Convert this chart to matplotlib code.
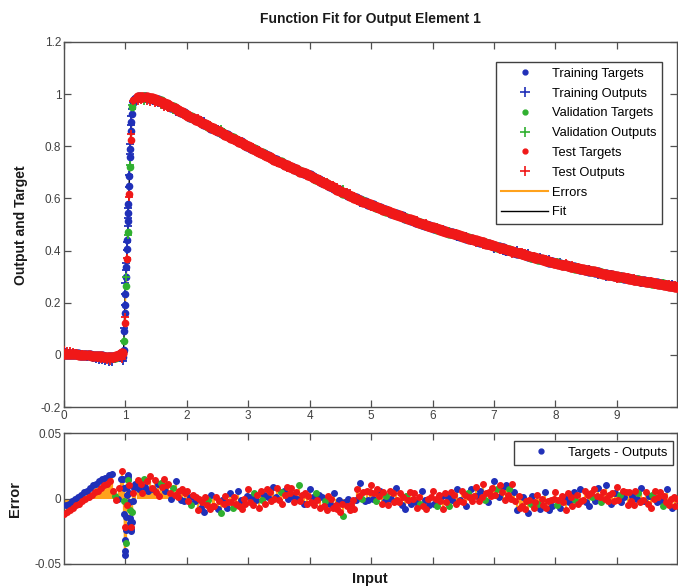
import matplotlib
matplotlib.use('Agg')
import matplotlib.pyplot as plt
import numpy as np
from matplotlib.lines import Line2D

plt.rcParams['font.family'] = ['Liberation Sans', 'DejaVu Sans']

# ---------------- data ----------------
# flat part before the step
x_flat = [0.000, 0.025, 0.050, 0.075, 0.100, 0.125, 0.150, 0.175, 0.200, 0.225,
          0.250, 0.275, 0.300, 0.325, 0.350, 0.375, 0.400, 0.425, 0.450, 0.475,
          0.500, 0.525, 0.550, 0.575, 0.600, 0.625, 0.650, 0.675, 0.700, 0.725,
          0.750, 0.775, 0.800, 0.825, 0.850, 0.875, 0.900, 0.925, 0.950]
t_flat = [0.005, 0.005, 0.004, 0.004, 0.004, 0.003, 0.003, 0.003, 0.002, 0.002,
          0.001, 0.001, 0.000, 0.000, -0.001, -0.001, -0.002, -0.002, -0.003, -0.003,
          -0.004, -0.004, -0.005, -0.005, -0.006, -0.006, -0.007, -0.007, -0.008, -0.008,
          -0.009, -0.009, -0.008, -0.007, -0.006, -0.004, -0.001, 0.003, 0.006]
err_flat_milli = [-12, -5, -10, -4, -9, -2, -7, 0, -5, 1,
                  -4, 3, -2, 5, 0, 6, 1, 8, 3, 10,
                  5, 11, 6, 13, 8, 15, 10, 16, 11, 18,
                  13, 19, 6, 2, -1, 0, 8, 15, 21]

# steep rise
x_rise = [0.965, 0.970, 0.975, 0.980, 0.985, 0.990, 0.995, 1.000, 1.005, 1.010,
          1.015, 1.020, 1.025, 1.030, 1.035, 1.040, 1.045, 1.050, 1.055, 1.060,
          1.065, 1.070, 1.075, 1.080, 1.085, 1.090, 1.095, 1.100, 1.110, 1.120,
          1.130, 1.140, 1.150]
t_rise = [-0.010, 0.020, 0.052, 0.090, 0.122, 0.160, 0.193, 0.232, 0.263, 0.300,
          0.337, 0.368, 0.405, 0.441, 0.473, 0.512, 0.544, 0.580, 0.617, 0.648,
          0.686, 0.719, 0.757, 0.788, 0.826, 0.858, 0.894, 0.924, 0.950, 0.966,
          0.976, 0.982, 0.986]
err_rise_milli = [15, 8, -2, -12, -22, -32, -40, -43, -34, -24,
                  -14, -5, 3, 9, 14, 17, 18, 15, 10, 4,
                  -3, -9, -15, -19, -22, -25, -23, -18, -10, -2,
                  4, 8, 11]

# slow decay
x_decay = [1.200, 1.225, 1.250, 1.275, 1.300, 1.325, 1.350, 1.375, 1.400, 1.425,
           1.450, 1.475, 1.500, 1.525, 1.550, 1.575, 1.600, 1.625, 1.650, 1.675,
           1.700, 1.725, 1.750, 1.775, 1.800, 1.825, 1.850, 1.875, 1.900, 1.925,
           1.950, 1.975, 2.000, 2.025, 2.050, 2.075, 2.100, 2.125, 2.150, 2.175,
           2.200, 2.225, 2.250, 2.275, 2.300, 2.325, 2.350, 2.375, 2.400, 2.425,
           2.450, 2.475, 2.500, 2.525, 2.550, 2.575, 2.600, 2.625, 2.650, 2.675,
           2.700, 2.725, 2.750, 2.775, 2.800, 2.825, 2.850, 2.875, 2.900, 2.925,
           2.950, 2.975, 3.000, 3.025, 3.050, 3.075, 3.100, 3.125, 3.150, 3.175,
           3.200, 3.225, 3.250, 3.275, 3.300, 3.325, 3.350, 3.375, 3.400, 3.425,
           3.450, 3.475, 3.500, 3.525, 3.550, 3.575, 3.600, 3.625, 3.650, 3.675,
           3.700, 3.725, 3.750, 3.775, 3.800, 3.825, 3.850, 3.875, 3.900, 3.925,
           3.950, 3.975, 4.000, 4.025, 4.050, 4.075, 4.100, 4.125, 4.150, 4.175,
           4.200, 4.225, 4.250, 4.275, 4.300, 4.325, 4.350, 4.375, 4.400, 4.425,
           4.450, 4.475, 4.500, 4.525, 4.550, 4.575, 4.600, 4.625, 4.650, 4.675,
           4.700, 4.725, 4.750, 4.775, 4.800, 4.825, 4.850, 4.875, 4.900, 4.925,
           4.950, 4.975, 5.000, 5.025, 5.050, 5.075, 5.100, 5.125, 5.150, 5.175,
           5.200, 5.225, 5.250, 5.275, 5.300, 5.325, 5.350, 5.375, 5.400, 5.425,
           5.450, 5.475, 5.500, 5.525, 5.550, 5.575, 5.600, 5.625, 5.650, 5.675,
           5.700, 5.725, 5.750, 5.775, 5.800, 5.825, 5.850, 5.875, 5.900, 5.925,
           5.950, 5.975, 6.000, 6.025, 6.050, 6.075, 6.100, 6.125, 6.150, 6.175,
           6.200, 6.225, 6.250, 6.275, 6.300, 6.325, 6.350, 6.375, 6.400, 6.425,
           6.450, 6.475, 6.500, 6.525, 6.550, 6.575, 6.600, 6.625, 6.650, 6.675,
           6.700, 6.725, 6.750, 6.775, 6.800, 6.825, 6.850, 6.875, 6.900, 6.925,
           6.950, 6.975, 7.000, 7.025, 7.050, 7.075, 7.100, 7.125, 7.150, 7.175,
           7.200, 7.225, 7.250, 7.275, 7.300, 7.325, 7.350, 7.375, 7.400, 7.425,
           7.450, 7.475, 7.500, 7.525, 7.550, 7.575, 7.600, 7.625, 7.650, 7.675,
           7.700, 7.725, 7.750, 7.775, 7.800, 7.825, 7.850, 7.875, 7.900, 7.925,
           7.950, 7.975, 8.000, 8.025, 8.050, 8.075, 8.100, 8.125, 8.150, 8.175,
           8.200, 8.225, 8.250, 8.275, 8.300, 8.325, 8.350, 8.375, 8.400, 8.425,
           8.450, 8.475, 8.500, 8.525, 8.550, 8.575, 8.600, 8.625, 8.650, 8.675,
           8.700, 8.725, 8.750, 8.775, 8.800, 8.825, 8.850, 8.875, 8.900, 8.925,
           8.950, 8.975, 9.000, 9.025, 9.050, 9.075, 9.100, 9.125, 9.150, 9.175,
           9.200, 9.225, 9.250, 9.275, 9.300, 9.325, 9.350, 9.375, 9.400, 9.425,
           9.450, 9.475, 9.500, 9.525, 9.550, 9.575, 9.600, 9.625, 9.650, 9.675,
           9.700, 9.725, 9.750, 9.775, 9.800, 9.825, 9.850, 9.875, 9.900, 9.925,
           9.950, 9.975]
t_decay = [0.988, 0.989, 0.990, 0.990, 0.990, 0.989, 0.988, 0.987, 0.985, 0.984,
           0.982, 0.980, 0.978, 0.976, 0.974, 0.972, 0.969, 0.967, 0.964, 0.961,
           0.958, 0.955, 0.952, 0.949, 0.946, 0.943, 0.940, 0.937, 0.933, 0.930,
           0.927, 0.924, 0.920, 0.917, 0.914, 0.911, 0.908, 0.905, 0.902, 0.899,
           0.896, 0.893, 0.890, 0.887, 0.884, 0.881, 0.878, 0.875, 0.872, 0.869,
           0.866, 0.863, 0.860, 0.857, 0.854, 0.851, 0.848, 0.845, 0.842, 0.839,
           0.836, 0.833, 0.830, 0.827, 0.824, 0.821, 0.818, 0.815, 0.812, 0.809,
           0.806, 0.803, 0.800, 0.797, 0.794, 0.791, 0.788, 0.785, 0.782, 0.779,
           0.776, 0.773, 0.770, 0.767, 0.764, 0.761, 0.758, 0.755, 0.752, 0.749,
           0.746, 0.744, 0.741, 0.738, 0.735, 0.733, 0.730, 0.727, 0.724, 0.722,
           0.719, 0.717, 0.714, 0.711, 0.708, 0.706, 0.703, 0.701, 0.698, 0.696,
           0.693, 0.691, 0.688, 0.685, 0.682, 0.679, 0.676, 0.673, 0.670, 0.667,
           0.664, 0.661, 0.658, 0.655, 0.652, 0.649, 0.646, 0.643, 0.640, 0.637,
           0.634, 0.631, 0.628, 0.625, 0.622, 0.620, 0.617, 0.614, 0.611, 0.609,
           0.606, 0.603, 0.600, 0.598, 0.595, 0.593, 0.590, 0.588, 0.585, 0.583,
           0.580, 0.578, 0.576, 0.574, 0.571, 0.569, 0.566, 0.564, 0.562, 0.560,
           0.557, 0.555, 0.553, 0.551, 0.548, 0.546, 0.544, 0.542, 0.539, 0.537,
           0.535, 0.533, 0.531, 0.529, 0.526, 0.524, 0.522, 0.520, 0.518, 0.516,
           0.513, 0.511, 0.509, 0.507, 0.505, 0.503, 0.501, 0.499, 0.497, 0.495,
           0.493, 0.491, 0.489, 0.487, 0.485, 0.483, 0.481, 0.480, 0.478, 0.476,
           0.474, 0.473, 0.471, 0.469, 0.467, 0.466, 0.464, 0.462, 0.460, 0.459,
           0.457, 0.455, 0.453, 0.452, 0.450, 0.448, 0.446, 0.445, 0.443, 0.441,
           0.439, 0.438, 0.436, 0.434, 0.432, 0.431, 0.429, 0.427, 0.425, 0.424,
           0.422, 0.420, 0.418, 0.417, 0.415, 0.413, 0.411, 0.410, 0.408, 0.406,
           0.404, 0.403, 0.401, 0.399, 0.397, 0.396, 0.394, 0.392, 0.390, 0.389,
           0.387, 0.386, 0.384, 0.382, 0.380, 0.379, 0.377, 0.376, 0.374, 0.372,
           0.370, 0.369, 0.367, 0.366, 0.364, 0.363, 0.361, 0.360, 0.358, 0.357,
           0.355, 0.354, 0.352, 0.351, 0.349, 0.348, 0.346, 0.345, 0.344, 0.343,
           0.341, 0.340, 0.338, 0.337, 0.336, 0.335, 0.333, 0.332, 0.331, 0.330,
           0.328, 0.327, 0.326, 0.325, 0.323, 0.322, 0.321, 0.320, 0.318, 0.317,
           0.316, 0.315, 0.313, 0.312, 0.311, 0.310, 0.308, 0.307, 0.306, 0.305,
           0.304, 0.303, 0.301, 0.300, 0.299, 0.298, 0.297, 0.296, 0.295, 0.294,
           0.292, 0.291, 0.290, 0.289, 0.288, 0.287, 0.286, 0.285, 0.284, 0.283,
           0.282, 0.281, 0.280, 0.279, 0.278, 0.277, 0.276, 0.275, 0.274, 0.273,
           0.272, 0.271, 0.270, 0.269, 0.268, 0.267, 0.266, 0.265, 0.264, 0.263,
           0.262, 0.261]
err_decay_milli = [14, 7, 11, 4, 15, 9, 13, 6, 17, 8,
                   7, 14, 5, 11, 2, 12, 9, 15, 6, 10,
                   11, 4, 0, 8, 3, 13, 1, 6, -1, 7,
                   -2, 4, 6, -2, 1, -5, 3, -2, 1, -9,
                   0, -7, -3, -10, 1, -5, -1, -8, 3, -6,
                   -6, 1, -8, -2, -11, -1, -4, 2, -7, -3,
                   4, -3, -7, 1, -4, 6, -6, -1, -8, 0,
                   -4, 2, 7, -3, 1, -5, 4, -1, 3, -7,
                   6, -1, 3, -4, 7, 1, 5, -2, 9, 0,
                   1, 8, -1, 5, -4, 6, 3, 9, 0, 4,
                   8, 1, -3, 5, 0, 10, -2, 3, -4, 4,
                   -4, 2, 7, -3, 1, -5, 4, -1, 3, -7,
                   1, -6, -2, -9, 2, -4, 0, -7, 4, -5,
                   -8, -1, -10, -4, -13, -3, -6, 0, -9, -5,
                   -1, -8, -1, 7, 2, 12, 0, 5, -2, 6,
                   -1, 5, 10, 0, 4, -2, 7, 2, 6, -4,
                   5, -2, 2, -5, 6, 0, 4, -3, 8, -1,
                   -3, 4, -5, 1, -8, 2, -1, 5, -4, 0,
                   4, -3, -7, 1, -4, 6, -6, -1, -8, 0,
                   -5, 1, 6, -4, 0, -6, 3, -2, 2, -8,
                   4, -3, 1, -6, 5, -1, 3, -4, 7, -2,
                   -1, 6, -3, 3, -6, 4, 1, 7, -2, 2,
                   9, 2, -2, 6, 1, 11, -1, 4, -3, 5,
                   2, 8, 13, 3, 7, 1, 10, 5, 9, -1,
                   10, 3, 7, 0, 11, 5, -2, -9, 2, -7,
                   -6, 1, -8, -2, -11, -1, -4, 2, -7, -3,
                   3, -4, -8, 0, -5, 5, -7, -2, -9, -1,
                   -6, 0, 5, -5, -1, -7, 2, -3, 1, -9,
                   4, -3, 1, -6, 5, -1, 3, -4, 7, -2,
                   -1, 6, -3, 3, -6, 4, 1, 7, -2, 2,
                   8, 1, -3, 5, 0, 10, -2, 3, -4, 4,
                   -2, 4, 9, -1, 3, -3, 6, 1, 5, -5,
                   5, -2, 2, -5, 6, 0, 4, -3, 8, -1,
                   -2, 5, -4, 2, -7, 3, 0, 6, -3, 1,
                   5, -2, -6, 2, -3, 7, -5, 0, -7, 1,
                   -6, 0]

# data division per sample: T = training, V = validation, S = test
sets_flat = "STSTSTSTSTSTSTSTSTSTSTSTSTSTSTSTSVSTSTS"
sets_rise = "TTVTSTTTVTTSTTVTTTSTTVTTSTTTVTSTTS"
sets_decay = ("STSSVTSTSS" "TSSTSVSSTS" "SSTVSTSSTS" "TSSSTVSTSS" "STSTSSVSTS"
              "SSTSVTSSTS" "TSVSSTSTSS" "STSSTSVTSS" "SVTSSTSSTS" "TSSVSTSSTS"
              "STSSTVSSTS" "SSTSTSVSTS" "TSVSSTSSTS" "STSSVTSTSS" "SSTSSTVSTS"
              "TSSTSVSSTS" "STVSSTSSTS" "SSTSTVSSTS" "STSSVTSTSS" "TSSTSVSSTS"
              "SSTVSTSSTS" "TSSSTVSTSS" "STSTSSVSTS" "SSTSVTSSTS" "TSVSSTSTSS"
              "STSSTSVTSS" "SVTSSTSSTS" "TSSVSTSSTS" "STSSTVSSTS" "SSTSTSVSTS"
              "TSVSSTSSTS" "STSSVTSTSS" "SSTSSTVSTS" "TSSTSVSSTS" "STVSSTSSTS"
              "SSTSTVSSTS")

legend_labels = ["Training Targets", "Training Outputs", "Validation Targets",
                 "Validation Outputs", "Test Targets", "Test Outputs", "Errors", "Fit"]
xticks_top = [0, 1, 2, 3, 4, 5, 6, 7, 8, 9]
yticks_top = [-0.2, 0, 0.2, 0.4, 0.6, 0.8, 1, 1.2]
yticks_err = [-0.05, 0, 0.05]

BLUE = '#2030b8'
GREEN = '#30b030'
RED = '#f01818'
ORANGE = '#ffa21c'
SPINE = '#505050'
TICKC = '#404040'


def seg(xs, ts, em, ss):
    n = min(len(xs), len(ts), len(em), len(ss))
    xa = np.array(xs[:n])
    ta = np.array(ts[:n])
    ea = np.array(em[:n]) / 1000.0
    sa = np.array(list(ss[:n]))
    return xa, ta, ea, sa


segments = [
    seg(x_flat, t_flat, err_flat_milli, sets_flat) + (13,),
    seg(x_rise, t_rise, err_rise_milli, sets_rise) + (9,),
    seg(x_decay, t_decay, err_decay_milli, sets_decay) + (13,),
]

fig = plt.figure(figsize=(6.78, 5.88), dpi=100)
ax1 = fig.add_axes([64/678, 1-407/588, 613/678, 365/588])
ax2 = fig.add_axes([64/678, 1-564/588, 613/678, 131/588])

# ---------- top panel ----------
x_all = np.concatenate([s[0] for s in segments])
t_all = np.concatenate([s[1] for s in segments])
e_all = np.concatenate([s[2] for s in segments])
s_all = np.concatenate([s[3] for s in segments])
o_all = t_all - e_all
order = np.argsort(x_all)
ax1.plot(x_all[order], o_all[order], color='k', lw=1.0, zorder=1)
ax1.vlines(x_all, t_all, o_all, color=ORANGE, lw=1.0, zorder=2)
for code, col in [('T', BLUE), ('V', GREEN), ('S', RED)]:
    for xs, ts, es, ss, ms in segments:
        m = ss == code
        ax1.plot(xs[m], ts[m], linestyle='none', marker='.', ms=ms, color=col, zorder=3)
        ax1.plot(xs[m], (ts - es)[m], linestyle='none', marker='+', ms=6, mew=1.3,
                 color=col, zorder=3)

ax1.set_xlim(0, 9.98)
ax1.set_ylim(-0.2, 1.2)
ax1.set_xticks(xticks_top)
ax1.set_xticklabels([str(v) for v in xticks_top])
ax1.set_yticks(yticks_top)
ax1.set_yticklabels(['-0.2', '0', '0.2', '0.4', '0.6', '0.8', '1', '1.2'])

# ---------- bottom panel ----------
ax2.vlines(x_all, 0, e_all, color=ORANGE, lw=1.6, zorder=1)
for code, col in [('T', BLUE), ('V', GREEN), ('S', RED)]:
    m = s_all == code
    ax2.plot(x_all[m], e_all[m], linestyle='none', marker='.', ms=8, color=col, zorder=3)
ax2.set_xlim(0, 9.98)
ax2.set_ylim(-0.05, 0.05)
ax2.set_xticks(xticks_top[1:])
ax2.set_xticklabels([])
ax2.set_yticks(yticks_err)
ax2.set_yticklabels(['-0.05', '0', '0.05'])

for ax in (ax1, ax2):
    ax.tick_params(direction='in', top=True, right=True, length=5, width=0.9,
                   color=SPINE, labelcolor=TICKC, labelsize=8.5, pad=2)
    for s in ax.spines.values():
        s.set_color(SPINE)
        s.set_linewidth(1.0)

# ---------- legends ----------
h = [
    Line2D([], [], ls='none', marker='.', ms=7, color=BLUE),
    Line2D([], [], ls='none', marker='+', ms=7, mew=1.2, color=BLUE),
    Line2D([], [], ls='none', marker='.', ms=7, color=GREEN),
    Line2D([], [], ls='none', marker='+', ms=7, mew=1.2, color=GREEN),
    Line2D([], [], ls='none', marker='.', ms=7, color=RED),
    Line2D([], [], ls='none', marker='+', ms=7, mew=1.2, color=RED),
    Line2D([], [], color=ORANGE, lw=1.5),
    Line2D([], [], color='k', lw=1.0),
]
leg1 = ax1.legend(h, legend_labels, loc='upper right',
                  bbox_to_anchor=(662/678, 1-62/588), bbox_transform=fig.transFigure,
                  borderaxespad=0, fontsize=9.3, handlelength=3.6, handletextpad=0.3,
                  labelspacing=0.6, borderpad=0.45, fancybox=False, framealpha=1,
                  edgecolor='#404040')
leg1.get_frame().set_linewidth(1.0)

h2 = [Line2D([], [], ls='none', marker='.', ms=7, color=BLUE)]
leg2 = ax2.legend(h2, ["Targets - Outputs"], loc='upper right',
                  bbox_to_anchor=(673/678, 1-441/588), bbox_transform=fig.transFigure,
                  borderaxespad=0, fontsize=9.3, handlelength=3.3, handletextpad=0.4,
                  borderpad=0.45, fancybox=False, framealpha=1, edgecolor='#404040')
leg2.get_frame().set_linewidth(1.0)

# ---------- labels ----------
fig.text(370/678, 1-19/588, "Function Fit for Output Element 1", ha='center', va='center',
         fontsize=10, fontweight='bold', color='#1a1a1a')
fig.text(21/678, 1-225/588, "Output and Target", ha='center', va='center', rotation=90,
         fontsize=10, fontweight='bold', color='#1a1a1a')
fig.text(15/678, 1-499/588, "Error", ha='center', va='center', rotation=90,
         fontsize=10.5, fontweight='bold', color='#1a1a1a')
fig.text(370/678, 1-579/588, "Input", ha='center', va='center',
         fontsize=10.5, fontweight='bold', color='#1a1a1a')

fig.savefig('out.png', dpi=100)
